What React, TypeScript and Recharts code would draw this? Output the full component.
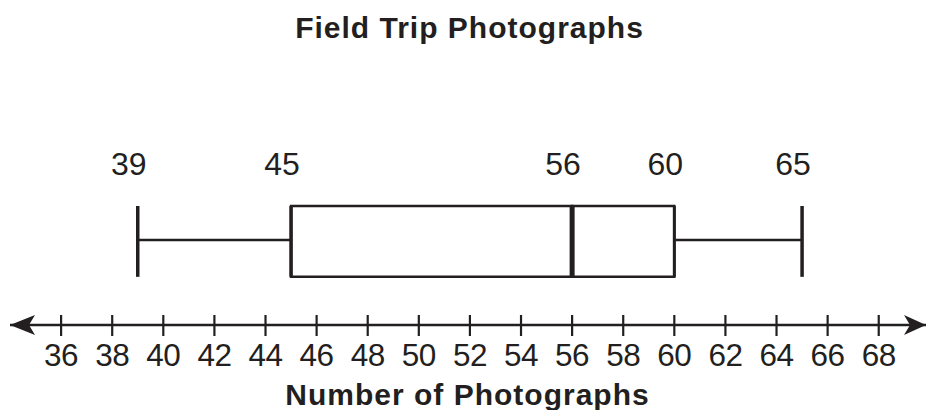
import React from 'react';
import {
  ComposedChart,
  XAxis,
  YAxis,
  ReferenceArea,
  ReferenceLine,
  ReferenceDot,
  Scatter,
} from 'recharts';

// ---- data ----
const TITLE = 'Field Trip Photographs';
const X_LABEL = 'Number of Photographs';
const SUMMARY_NAMES = ['min', 'q1', 'median', 'q3', 'max'];
const SUMMARY_VALUES = [39, 45, 56, 60, 65];
const TICKS = [36, 38, 40, 42, 44, 46, 48, 50, 52, 54, 56, 58, 60, 62, 64, 66, 68];
const AXIS_DOMAIN: [number, number] = [34, 69.85];

// ---- layout (row coordinates on hidden y axis, 0..10) ----
const BOX_LOW = 1.72;
const BOX_HIGH = 4.25;
const WHISKER_Y = 3.04;
const LABEL_Y = 5.35;

const INK = '#231f20';
const W = 927;
const H = 410;

const [vMin, vQ1, vMed, vQ3, vMax] = SUMMARY_VALUES;
const labelData = SUMMARY_VALUES.map((v, i) => ({ name: SUMMARY_NAMES[i], x: v, y: LABEL_Y }));

const Tick = (props: any) => {
  const { x, y, payload } = props;
  return (
    <g>
      <line x1={x} x2={x} y1={y - 10} y2={y + 11} stroke={INK} strokeWidth={2.2} />
      <text
        x={x}
        y={y + 41}
        textAnchor="middle"
        fill={INK}
        fontFamily="'Liberation Sans', Arial, sans-serif"
        fontSize={31.5}
        letterSpacing={-0.5}
      >
        {payload.value}
      </text>
    </g>
  );
};

const LeftArrow = (p: any) => {
  const { cx, cy } = p;
  return (
    <path
      d={`M${cx},${cy} L${cx + 25},${cy - 10} L${cx + 19},${cy} L${cx + 25},${cy + 10} Z`}
      fill={INK}
    />
  );
};

const RightArrow = (p: any) => {
  const { cx, cy } = p;
  return (
    <path
      d={`M${cx},${cy} L${cx - 22},${cy - 10} L${cx - 16},${cy} L${cx - 22},${cy + 10} Z`}
      fill={INK}
    />
  );
};

const HandLabel = (p: any) => {
  const { cx, cy, payload } = p;
  return (
    <text
      x={cx - 9}
      y={cy}
      textAnchor="middle"
      fill={INK}
      fontFamily="'Liberation Sans', Arial, sans-serif"
      fontSize={32}
    >
      {payload.x}
    </text>
  );
};

const textStyle: React.CSSProperties = {
  position: 'absolute',
  left: 0,
  width: W,
  textAlign: 'center',
  fontFamily: "'Liberation Sans', Arial, sans-serif",
  fontWeight: 'bold',
  fontSize: 30,
  lineHeight: '30px',
  letterSpacing: 1,
  color: INK,
  whiteSpace: 'nowrap',
};

export default function App() {
  return (
    <div style={{ position: 'absolute', left: 0, top: 0, width: W, height: H, background: '#fff' }}>
      <ComposedChart
        width={W}
        height={H}
        margin={{ top: 45, right: 1, bottom: 0, left: 10 }}
        data={labelData}
      >
        <XAxis
          type="number"
          dataKey="x"
          domain={AXIS_DOMAIN}
          ticks={TICKS}
          allowDataOverflow
          height={85}
          tickSize={0}
          tickMargin={0}
          tickLine={false}
          axisLine={{ stroke: INK, strokeWidth: 2.5 }}
          tick={<Tick />}
          interval={0}
        />
        <YAxis type="number" dataKey="y" domain={[0, 10]} hide />

        {/* box: Q1 to median, median to Q3 */}
        <ReferenceArea x1={vQ1} x2={vMed} y1={BOX_LOW} y2={BOX_HIGH} fill="none" fillOpacity={0} stroke={INK} strokeWidth={2.5} ifOverflow="visible" />
        <ReferenceArea x1={vMed} x2={vQ3} y1={BOX_LOW} y2={BOX_HIGH} fill="none" fillOpacity={0} stroke={INK} strokeWidth={2.5} ifOverflow="visible" />
        {/* median */}
        <ReferenceLine segment={[{ x: vMed, y: BOX_LOW }, { x: vMed, y: BOX_HIGH }]} stroke={INK} strokeWidth={5} ifOverflow="visible" />
        {/* box left / right edges heavier */}
        <ReferenceLine segment={[{ x: vQ1, y: BOX_LOW }, { x: vQ1, y: BOX_HIGH }]} stroke={INK} strokeWidth={3.5} ifOverflow="visible" />
        <ReferenceLine segment={[{ x: vQ3, y: BOX_LOW }, { x: vQ3, y: BOX_HIGH }]} stroke={INK} strokeWidth={3} ifOverflow="visible" />
        {/* whiskers */}
        <ReferenceLine segment={[{ x: vMin, y: WHISKER_Y }, { x: vQ1, y: WHISKER_Y }]} stroke={INK} strokeWidth={2.5} ifOverflow="visible" />
        <ReferenceLine segment={[{ x: vQ3, y: WHISKER_Y }, { x: vMax, y: WHISKER_Y }]} stroke={INK} strokeWidth={2.5} ifOverflow="visible" />
        {/* caps */}
        <ReferenceLine segment={[{ x: vMin, y: BOX_LOW }, { x: vMin, y: BOX_HIGH }]} stroke={INK} strokeWidth={3.5} ifOverflow="visible" />
        <ReferenceLine segment={[{ x: vMax, y: BOX_LOW }, { x: vMax, y: BOX_HIGH }]} stroke={INK} strokeWidth={3.5} ifOverflow="visible" />

        {/* arrowheads at the ends of the number line */}
        <ReferenceDot x={AXIS_DOMAIN[0]} y={0} r={0} shape={<LeftArrow />} ifOverflow="visible" />
        <ReferenceDot x={AXIS_DOMAIN[1]} y={0} r={0} shape={<RightArrow />} ifOverflow="visible" />

        {/* handwritten value labels */}
        <Scatter data={labelData} dataKey="y" shape={<HandLabel />} isAnimationActive={false} />
      </ComposedChart>
      <div style={{ ...textStyle, top: 13, left: 6 }}>{TITLE}</div>
      <div style={{ ...textStyle, top: 380, left: 4 }}>{X_LABEL}</div>
    </div>
  );
}
